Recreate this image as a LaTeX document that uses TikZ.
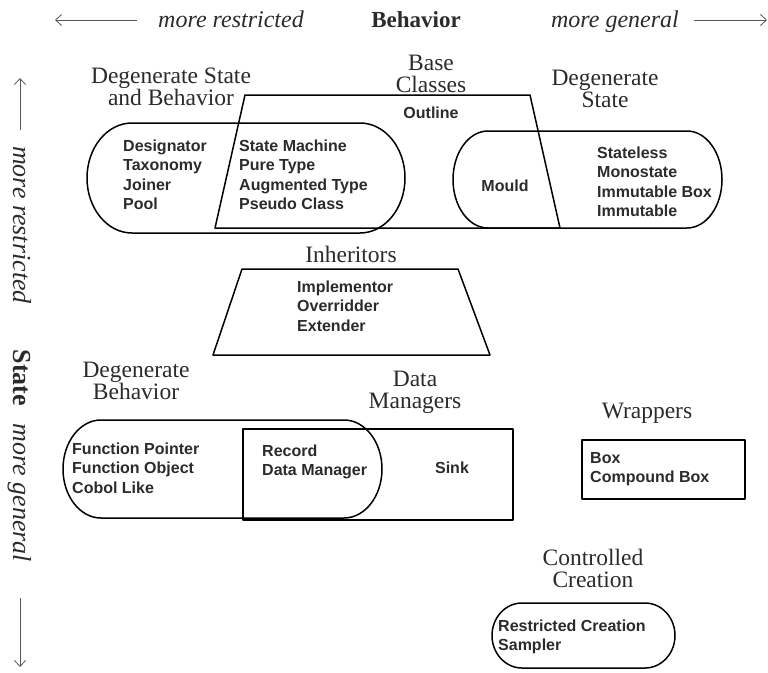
\documentclass[tikz,border=0pt]{standalone}
\usepackage{fontspec}
\setmainfont{Liberation Serif}
\setsansfont{Liberation Sans}
\usepackage{tikz}
\usetikzlibrary{arrows.meta}
\definecolor{gristexto}{HTML}{2B2B2B}
\definecolor{grisflecha}{HTML}{555555}

\newcommand{\capsula}[5]{%
  \draw[contorno] ({#1+#5},#2) -- ({#3-#5},#2)
    arc[start angle=90,end angle=-90,x radius=#5,y radius={(#2-#4)/2}]
    -- ({#1+#5},#4)
    arc[start angle=270,end angle=90,x radius=#5,y radius={(#2-#4)/2}] -- cycle;}

\tikzset{
  contorno/.style={line width=1.5pt,line join=round},
  lista/.style={font=\sffamily\bfseries\fontsize{16}{19.5}\selectfont,align=left,inner sep=0pt,text=gristexto},
  rotulo/.style={font=\fontsize{23.5}{22}\selectfont,align=center,inner sep=0pt,text=gristexto},
  eje/.style={inner sep=0pt,anchor=base,text=gristexto},
  ejev/.style={inner sep=0pt,anchor=base,text=gristexto,rotate=-90},
  flecha/.style={line width=0.8pt,draw=grisflecha,-{Straight Barb[length=6pt,width=11pt]}}
}

\begin{document}
\begin{tikzpicture}[x=1pt,y=1pt]
\useasboundingbox (0,0) rectangle (768,-672);

\node[eje,font=\fontsize{24}{24}\selectfont\itshape] (hRes) at (231,-27) {more restricted};
\node[eje,font=\fontsize{23}{23}\selectfont\bfseries] (hBeh) at (416,-27) {Behavior};
\node[eje,font=\fontsize{24}{24}\selectfont\itshape] (hGen) at (615,-27) {more general};
\coordinate (hIzq) at (55,-20);
\coordinate (hDer) at (767,-20);
\draw[flecha] (137,-20) -- (hIzq);
\draw[flecha] (694,-20) -- (hDer);

\node[ejev,font=\fontsize{26}{26}\selectfont\itshape] (vRes) at (13,-225) {more restricted};
\node[ejev,font=\fontsize{26}{26}\selectfont\bfseries] (vSta) at (13,-378) {State};
\node[ejev,font=\fontsize{26}{26}\selectfont\itshape] (vGen) at (13,-493) {more general};
\coordinate (vArr) at (20,-78);
\coordinate (vAba) at (20,-667);
\draw[flecha] (20,-130) -- (vArr);
\draw[flecha] (20,-598) -- (vAba);

\capsula{87}{-123}{405}{-233}{45}
\draw[contorno] (245,-95) -- (530,-95) -- (560,-228) -- (215,-228) -- cycle;
\capsula{453}{-131}{722}{-228}{35}
\draw[contorno] (242,-269) -- (458,-269) -- (490,-355) -- (213,-355) -- cycle;
\capsula{63}{-420}{382}{-518}{38}
\draw[contorno] (243,-429) rectangle (513,-520);
\draw[contorno] (582,-440) rectangle (745,-499);
\capsula{492}{-603}{675}{-668}{30}

\node[rotulo] (rSB) at (171,-87) {Degenerate State\\and Behavior};
\node[rotulo] (rBase) at (431,-74) {Base\\Classes};
\node[rotulo] (rDS) at (605,-89) {Degenerate\\State};
\node[rotulo] (rInh) at (351,-254) {Inheritors};
\node[rotulo] (rDB) at (136,-381) {Degenerate\\Behavior};
\node[rotulo] (rDM) at (415,-392) {Data\\Managers};
\node[rotulo] (rWrap) at (647,-413) {Wrappers};
\node[rotulo] (rCC) at (593,-568) {Controlled\\Creation};

\node[lista,anchor=west] (lSB) at (123,-175) {Designator\\Taxonomy\\Joiner\\Pool};
\node[lista,anchor=west] (lBase) at (239,-175) {State Machine\\Pure Type\\Augmented Type\\Pseudo Class};
\node[lista] (lOut) at (431,-113) {Outline};
\node[lista] (lMould) at (505,-186) {Mould};
\node[lista,anchor=west] (lDS) at (597,-182) {Stateless\\Monostate\\Immutable Box\\Immutable};
\node[lista,anchor=west] (lInh) at (297,-306) {Implementor\\Overridder\\Extender};
\node[lista,anchor=west] (lDB) at (72,-468) {Function Pointer\\Function Object\\Cobol Like};
\node[lista,anchor=west] (lDM) at (262,-462) {Record\\Data Manager};
\node[lista] (lSink) at (452,-468) {Sink};
\node[lista,anchor=west] (lWrap) at (590,-469) {Box\\Compound Box};
\node[lista,anchor=west] (lCC) at (498,-637) {Restricted Creation\\Sampler};
\end{tikzpicture}
\end{document}
